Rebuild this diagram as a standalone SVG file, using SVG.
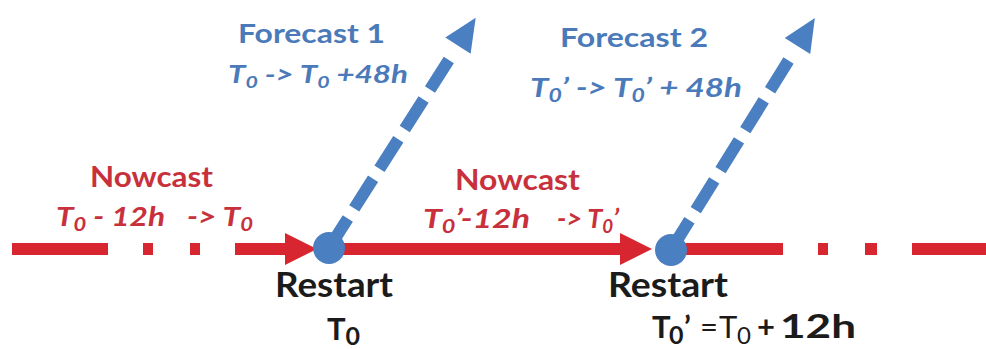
<svg xmlns="http://www.w3.org/2000/svg" width="986" height="349" viewBox="0 0 986 349">
<style>
text{font-family:Lato,"Open Sans","Liberation Sans",sans-serif;font-weight:bold}
.blue{fill:#4a7ab9}
.red{fill:#c8313b}
.blk{fill:#1b1b1b}
.it{font-style:italic}
.rl{stroke:#d7262f;stroke-width:12;fill:none}
.fcl{stroke:#4a7fc1;stroke-width:12;fill:none;stroke-dasharray:35 12}
.fch{fill:#4a7fc1}
.dot{fill:#4a7fc1}
</style>
<defs>
<g id="fcArrow">
<line class="fcl" x1="0" y1="0" x2="224" y2="0"/>
<polygon class="fch" points="273,0 240,-15 240,15"/>
</g>
<polygon id="redHead" points="0,-16 32,0 0,16" fill="#d7262f"/>
</defs>
<rect width="986" height="349" fill="#ffffff"/>
<g id="connectors">
<g id="nowcast1-line">
<line class="rl" x1="12" y1="249" x2="108" y2="249"/>
<line class="rl" x1="143" y1="249" x2="153" y2="249"/>
<line class="rl" x1="190" y1="249" x2="200" y2="249"/>
<line class="rl" x1="235" y1="249" x2="290" y2="249"/>
<use href="#redHead" x="285" y="249"/>
</g>
<g id="nowcast2-line">
<line class="rl" x1="329" y1="249" x2="622" y2="249"/>
<use href="#redHead" x="620" y="249"/>
</g>
<g id="continuation-line">
<line class="rl" x1="671" y1="249" x2="783" y2="249"/>
<line class="rl" x1="818" y1="249" x2="828" y2="249"/>
<line class="rl" x1="865" y1="249" x2="877" y2="249"/>
<line class="rl" x1="912" y1="249" x2="986" y2="249"/>
</g>
<use id="forecast1-arrow" href="#fcArrow" transform="translate(329,248) rotate(-57.5)"/>
<use id="forecast2-arrow" href="#fcArrow" transform="translate(671,250) rotate(-58.2)"/>
</g>
<g id="restart1">
<circle class="dot" cx="329" cy="248" r="16"/>
<text class="blk" x="275" y="297" font-size="34" textLength="118" lengthAdjust="spacingAndGlyphs">Restart</text>
<text class="blk" x="327" y="340" font-size="31">T<tspan dy="5" font-size="25">0</tspan></text>
</g>
<g id="restart2">
<circle class="dot" cx="671" cy="250" r="16"/>
<text class="blk" x="608" y="297" font-size="34" textLength="120" lengthAdjust="spacingAndGlyphs">Restart</text>
<text class="blk" x="652" y="338" font-size="31">T<tspan x="669" dy="6" font-size="25">0</tspan><tspan x="684" dy="-6">’</tspan><tspan x="700" font-weight="normal">=</tspan><tspan x="719" font-weight="normal">T</tspan><tspan x="737" dy="6" font-size="24" font-weight="normal">0</tspan><tspan x="757" dy="-6">+</tspan><tspan x="780" font-size="32" textLength="76" lengthAdjust="spacingAndGlyphs">12h</tspan></text>
</g>
<g id="forecast1-label">
<text class="blue" x="238" y="43" font-size="26" textLength="147" lengthAdjust="spacingAndGlyphs">Forecast 1</text>
<text class="blue it" x="228" y="83" font-size="25" textLength="180" lengthAdjust="spacingAndGlyphs">T<tspan dy="5" font-size="17">0</tspan><tspan dy="-5"> -&gt; T</tspan><tspan dy="5" font-size="17">0</tspan><tspan dy="-5"> +48h</tspan></text>
</g>
<g id="forecast2-label">
<text class="blue" x="560" y="47" font-size="26" textLength="148" lengthAdjust="spacingAndGlyphs">Forecast 2</text>
<text class="blue it" x="530" y="97" font-size="26" textLength="212" lengthAdjust="spacingAndGlyphs">T<tspan dy="5" font-size="18">0</tspan><tspan dy="-5">’ -&gt; T</tspan><tspan dy="5" font-size="18">0</tspan><tspan dy="-5">’ + 48h</tspan></text>
</g>
<g id="nowcast1-label">
<text class="red" x="90" y="187" font-size="28" textLength="123" lengthAdjust="spacingAndGlyphs">Nowcast</text>
<text class="red it" x="56" y="226" font-size="26" textLength="109" lengthAdjust="spacingAndGlyphs">T<tspan dy="5" font-size="18">0</tspan><tspan dy="-5"> - 12h</tspan></text>
<text class="red it" x="187" y="226" font-size="26" textLength="66" lengthAdjust="spacingAndGlyphs">-&gt; T<tspan dy="5" font-size="18">0</tspan></text>
</g>
<g id="nowcast2-label">
<text class="red" x="455" y="190" font-size="28" textLength="125" lengthAdjust="spacingAndGlyphs">Nowcast</text>
<text class="red it" x="423" y="228" font-size="26" textLength="107" lengthAdjust="spacingAndGlyphs">T<tspan dy="5" font-size="18">0</tspan><tspan dy="-5">’-12h</tspan></text>
<text class="red it" x="557" y="228" font-size="26" textLength="62" lengthAdjust="spacingAndGlyphs">-&gt; T<tspan dy="5" font-size="18">0</tspan><tspan dy="-5">’</tspan></text>
</g>
</svg>
